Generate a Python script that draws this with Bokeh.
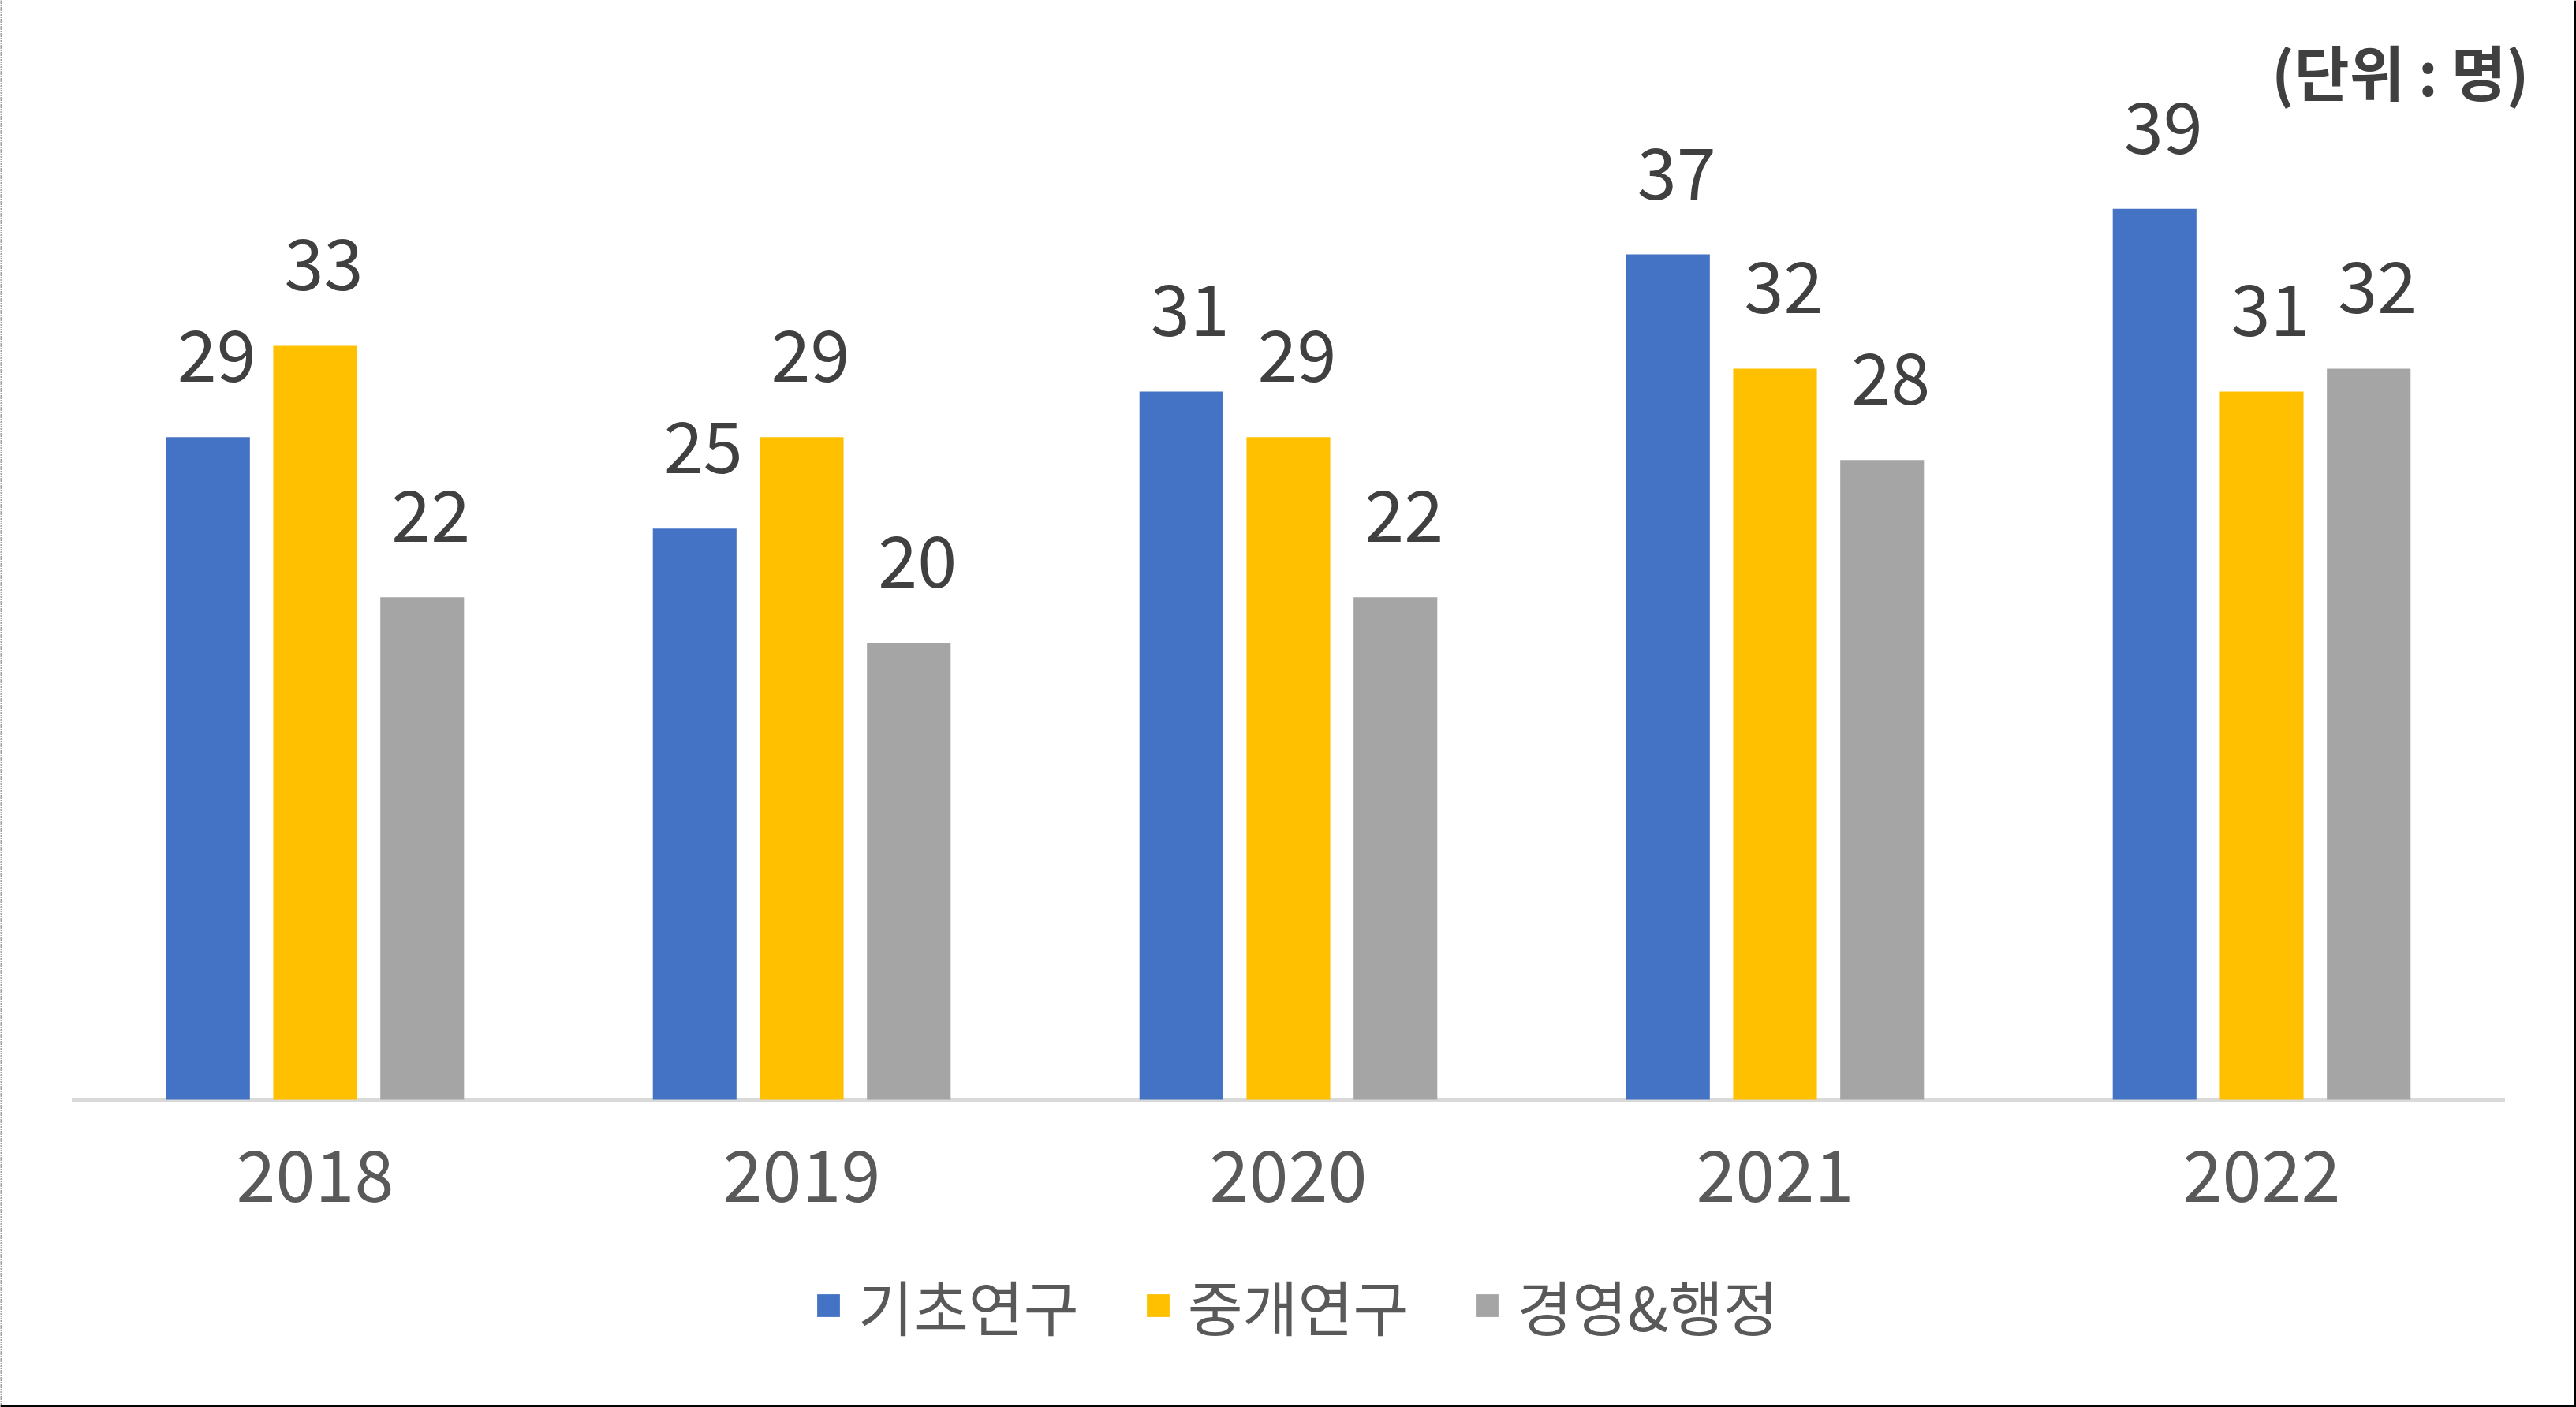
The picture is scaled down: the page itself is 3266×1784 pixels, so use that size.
from bokeh.plotting import figure
from bokeh.models import ColumnDataSource, LabelSet, Label, Legend, LegendItem, FactorRange, Range1d, Span
from bokeh.transform import dodge
from bokeh.core.properties import value
from bokeh.embed import file_html
from bokeh.resources import INLINE

years = ["2018", "2019", "2020", "2021", "2022"]
series_names = ["기초연구", "중개연구", "경영&행정"]
basic = [29, 25, 31, 37, 39]
translational = [33, 29, 29, 32, 31]
admin = [22, 20, 22, 28, 32]
colors = ["#4472C4", "#FFC000", "#A5A5A5"]
unit_text = "(단위 : 명)"

FONT = "Noto Sans CJK KR"

src = ColumnDataSource(dict(
    year=years, s0=basic, s1=translational, s2=admin,
    t0=[str(v) for v in basic], t1=[str(v) for v in translational], t2=[str(v) for v in admin],
))

W, H = 3266, 1784
PX_PER_UNIT = 28.97
BASE = 1394
p = figure(width=W, height=H, output_backend="svg", toolbar_location=None,
           x_range=FactorRange(*years, range_padding=0.05868, range_padding_units="percent"),
           y_range=Range1d(-(H - BASE) / PX_PER_UNIT, BASE / PX_PER_UNIT),
           min_border_left=0, min_border_right=0, min_border_top=0, min_border_bottom=0)
p.background_fill_color = "white"
p.border_fill_color = "white"
p.outline_line_color = None
p.grid.visible = False
p.yaxis.visible = False

xa = p.xaxis[0]
xa.fixed_location = 0
xa.axis_line_color = None
xa.major_tick_line_color = None
xa.minor_tick_line_color = None
xa.major_label_text_font = FONT
xa.major_label_text_font_size = "90px"
xa.major_label_text_color = "#595959"
xa.major_label_standoff = 57

# baseline across the category span
p.segment(x0=[0], x1=[len(years)], y0=[0], y1=[0], line_color="#D9D9D9", line_width=5)

offsets = [-0.22, 0.0, 0.22]
renderers = []
for i, (off, col) in enumerate(zip(offsets, colors)):
    r = p.vbar(x=dodge("year", off, range=p.x_range), top=f"s{i}", width=0.172,
               source=src, fill_color=col, line_color=None)
    renderers.append(r)
    labels = LabelSet(x=dodge("year", off, range=p.x_range), y=f"s{i}", text=f"t{i}",
                      source=src, x_offset=11, y_offset=70, text_align="center",
                      text_baseline="alphabetic", text_font=value(FONT), text_font_size=value("90px"),
                      text_color=value("#404040"))
    p.add_layout(labels)

legend = Legend(items=[LegendItem(label=n, renderers=[r]) for n, r in zip(series_names, renderers)],
                orientation="horizontal", location=(1032, 74),
                glyph_width=36, glyph_height=36, label_standoff=20, spacing=82,
                label_text_font=FONT, label_text_font_size="76px", label_text_color="#595959",
                border_line_color=None, background_fill_alpha=0, padding=0, margin=0)
p.add_layout(legend)

p.add_layout(Label(x=3206, y=H - 88, x_units="screen", y_units="screen", text=unit_text,
                   text_align="right", text_baseline="middle", text_font=FONT,
                   text_font_size="76px", text_font_style="bold", text_color="#404040"))

# thin page edges as seen in the reference
p.add_layout(Span(location=0.5, location_units="screen", dimension="height",
                  line_color="black", line_width=1.5, line_dash="1 2"))
p.add_layout(Span(location=W - 1.5, location_units="screen", dimension="height",
                  line_color="black", line_width=2))
p.add_layout(Span(location=1.5, location_units="screen", dimension="width",
                  line_color="black", line_width=2))

open("out.html", "w").write(file_html(p, INLINE))
